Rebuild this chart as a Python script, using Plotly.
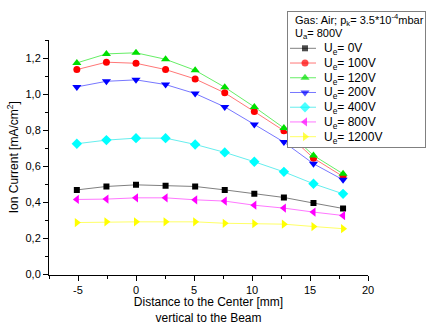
import plotly.graph_objects as go

x_mm = [-5.1, -2.55, 0, 2.55, 5.1, 7.65, 10.2, 12.75, 15.3, 17.85]

ue_0 = [0.469, 0.488, 0.497, 0.492, 0.488, 0.469, 0.447, 0.427, 0.396, 0.366]
ue_100 = [1.136, 1.177, 1.171, 1.136, 1.084, 1.007, 0.903, 0.797, 0.645, 0.543]
ue_120 = [1.173, 1.223, 1.229, 1.193, 1.132, 1.038, 0.929, 0.812, 0.660, 0.558]
ue_200 = [1.040, 1.071, 1.079, 1.053, 1.003, 0.929, 0.832, 0.734, 0.614, 0.525]
ue_400 = [0.725, 0.745, 0.756, 0.756, 0.721, 0.677, 0.625, 0.569, 0.503, 0.447]
ue_800 = [0.416, 0.418, 0.425, 0.425, 0.414, 0.407, 0.384, 0.368, 0.346, 0.327]
ue_1200 = [0.288, 0.292, 0.292, 0.292, 0.292, 0.284, 0.282, 0.279, 0.266, 0.254]

series_names = ["U<sub>e</sub>= 0V", "U<sub>e</sub>= 100V", "U<sub>e</sub>= 120V",
                "U<sub>e</sub>= 200V", "U<sub>e</sub>= 400V", "U<sub>e</sub>= 800V",
                "U<sub>e</sub>= 1200V"]
series_values = [ue_0, ue_100, ue_120, ue_200, ue_400, ue_800, ue_1200]
legend_title_lines = ["Gas: Air; p<sub>k</sub>= 3.5*10<sup>-4</sup>mbar",
                      "U<sub>a</sub>= 800V"]

x_tickvals = [-5, 0, 5, 10, 15, 20]
x_ticktext = ["-5", "0", "5", "10", "15", "20"]
y_tickvals = [0, 0.2, 0.4, 0.6, 0.8, 1.0, 1.2]
y_ticktext = ["0,0", "0,2", "0,4", "0,6", "0,8", "1,0", "1,2"]

marker_colors = ["#000000", "#ff0000", "#00e000", "#0000ff", "#00ffff", "#ff00ff", "#ffff00"]
line_colors = ["#808080", "#ff7777", "#66ee66", "#7777ff", "#66eeee", "#ff77ff", "#ffff66"]
symbols = ["square", "circle", "triangle-up", "triangle-down", "diamond",
           "triangle-left", "triangle-right"]
sizes = [6, 7, 8, 8, 8, 8, 8]

W, H = 435, 325
# main plot area in pixels
PL, PR, PT, PB = 49, 368, 40, 274.5
# legend box in pixels
LL, LR, LT, LB = 288, 425, 12, 147
LW, LH = LR - LL, LB - LT

fig = go.Figure()
for name, vals, mc, lc, sym, sz in zip(series_names, series_values, marker_colors,
                                       line_colors, symbols, sizes):
    fig.add_trace(go.Scatter(
        x=x_mm, y=vals, name=name, mode="lines+markers",
        line=dict(color=lc, width=1),
        marker=dict(color=mc, symbol=sym, size=sz, line=dict(width=0)),
        xaxis="x", yaxis="y", showlegend=False,
    ))

# ---- legend drawn in its own small subplot (box-relative pixel units) ----
fig.add_trace(go.Scatter(
    x=[0, LW, LW, 0, 0], y=[0, 0, LH, LH, 0], fill="toself", fillcolor="white",
    mode="none", xaxis="x2", yaxis="y2", showlegend=False, hoverinfo="skip",
))
key_x0, key_xm, key_x1 = 2, 17, 28
row0, row_step = 36.3, 14.73
for i, (mc, lc, sym, sz) in enumerate(zip(marker_colors, line_colors, symbols, sizes)):
    ry = row0 + i * row_step
    fig.add_trace(go.Scatter(
        x=[key_x0, key_xm, key_x1], y=[ry, ry, ry], mode="lines+markers",
        line=dict(color=lc, width=1),
        marker=dict(color=mc, symbol=sym, size=[0, sz, 0], line=dict(width=0)),
        xaxis="x2", yaxis="y2", showlegend=False, hoverinfo="skip", cliponaxis=False,
    ))

font = "Liberation Sans, Arial, sans-serif"
annotations = []
for j, t in enumerate(legend_title_lines):
    annotations.append(dict(text=t, x=5, y=8 + j * 13.5, xref="x2", yref="y2",
                            xanchor="left", yanchor="middle", showarrow=False,
                            font=dict(size=11)))
for i, name in enumerate(series_names):
    annotations.append(dict(text=name, x=33.5, y=row0 + i * row_step + 1, xref="x2",
                            yref="y2", xanchor="left", yanchor="middle",
                            showarrow=False, font=dict(size=12)))

fig.update_layout(
    width=W, height=H,
    margin=dict(l=0, r=0, t=0, b=0),
    paper_bgcolor="white", plot_bgcolor="rgba(0,0,0,0)",
    font=dict(family=font, size=11, color="black"),
    showlegend=False,
    annotations=annotations,
    xaxis=dict(
        domain=[PL / W, PR / W], anchor="y",
        range=[-7.5, 20], tickmode="array", tickvals=x_tickvals, ticktext=x_ticktext,
        ticks="outside", ticklen=5, tickwidth=1, tickcolor="black",
        showline=True, linecolor="black", linewidth=1, showgrid=False, zeroline=False,
        minor=dict(tickvals=[-7.5, -2.5, 2.5, 7.5, 12.5, 17.5], ticks="outside",
                   ticklen=3, tickcolor="black", showgrid=False),
        tickfont=dict(size=11), automargin=False,
        title=dict(text="Distance to the Center [mm]<br>vertical to the Beam",
                   font=dict(size=12), standoff=21),
    ),
    yaxis=dict(
        domain=[(H - PB) / H, (H - PT) / H], anchor="x",
        range=[0, 1.3], tickmode="array", tickvals=y_tickvals, ticktext=y_ticktext,
        ticks="outside", ticklen=5, tickwidth=1, tickcolor="black",
        showline=True, linecolor="black", linewidth=1, showgrid=False, zeroline=False,
        minor=dict(tickvals=[0.1, 0.3, 0.5, 0.7, 0.9, 1.1, 1.3], ticks="outside",
                   ticklen=3, tickcolor="black", showgrid=False),
        tickfont=dict(size=11), automargin=False,
        title=dict(text="Ion Current [mA/cm<sup>2</sup>]", font=dict(size=12), standoff=4),
    ),
    xaxis2=dict(
        domain=[LL / W, LR / W], anchor="y2", range=[0, LW],
        showline=True, mirror=True, linecolor="#808080", linewidth=1,
        showgrid=False, zeroline=False, showticklabels=False, ticks="",
        fixedrange=True, automargin=False,
    ),
    yaxis2=dict(
        domain=[(H - LB) / H, (H - LT) / H], anchor="x2", range=[LH, 0],
        showline=True, mirror=True, linecolor="#808080", linewidth=1,
        showgrid=False, zeroline=False, showticklabels=False, ticks="",
        fixedrange=True, automargin=False,
    ),
)

fig.write_html("out.html")
